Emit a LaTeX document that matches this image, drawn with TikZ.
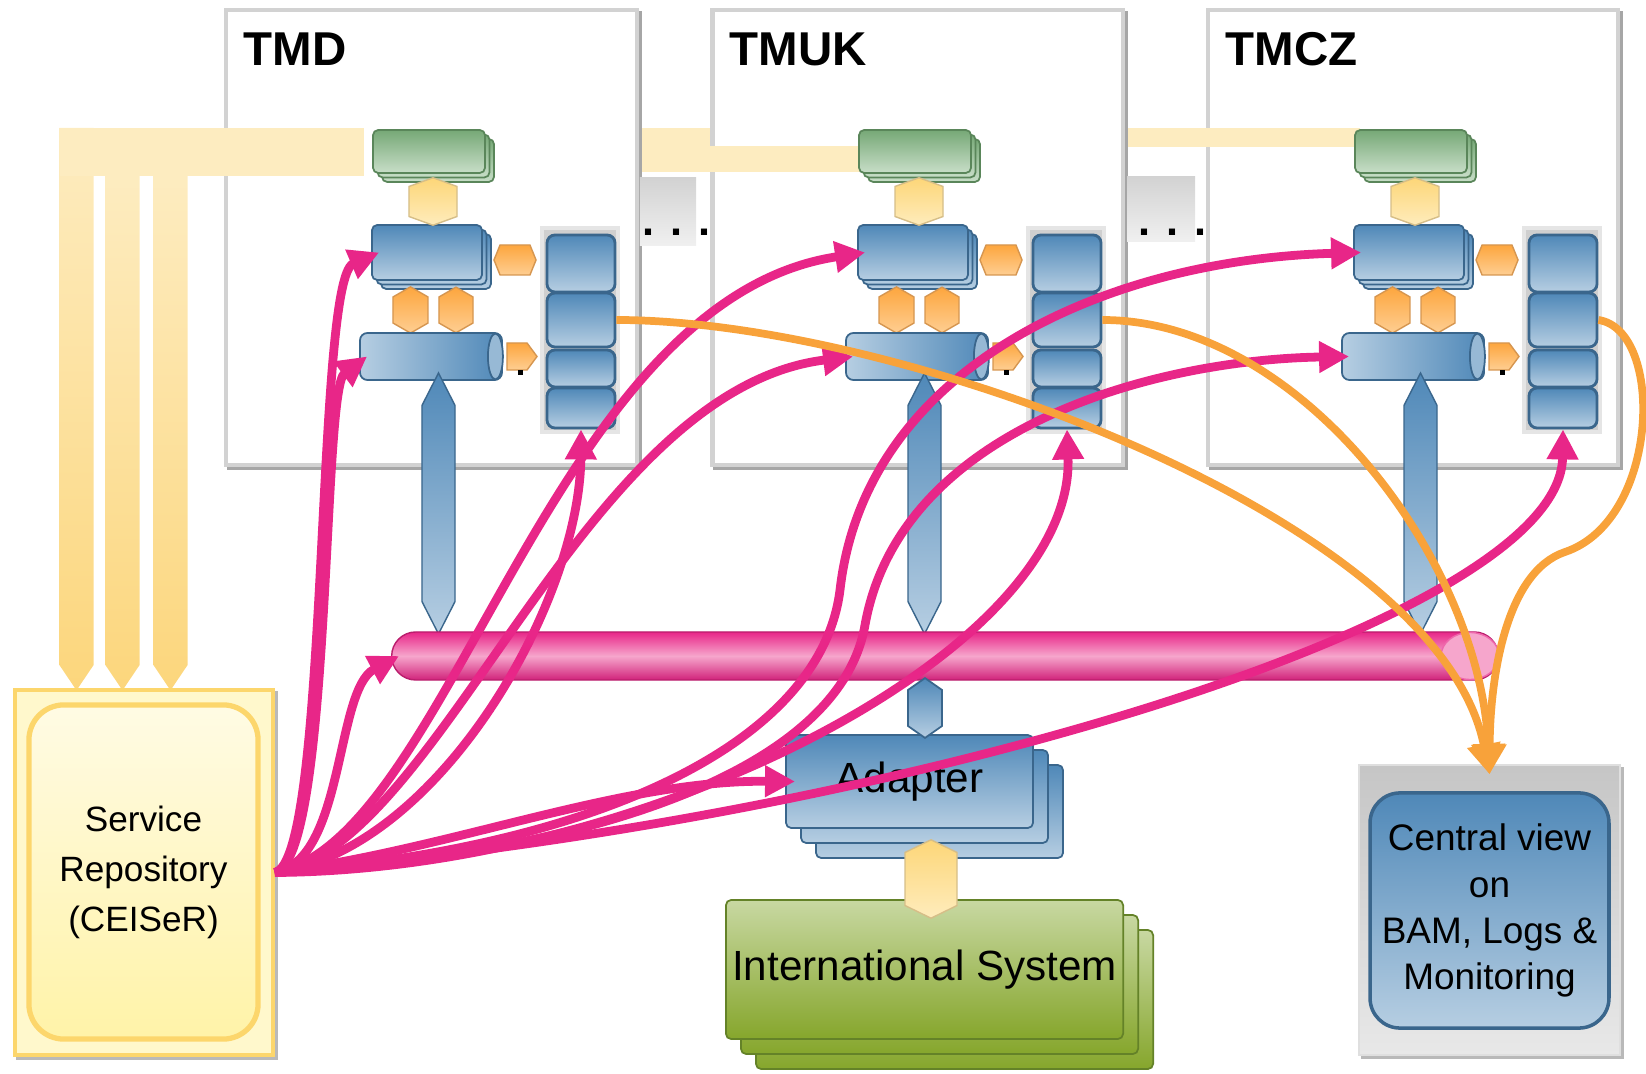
\documentclass[tikz,border=0pt]{standalone}
\usepackage{fontspec}
\setmainfont{Liberation Sans}
\usetikzlibrary{arrows.meta, shapes.symbols, shadows}

\definecolor{bluetop}{RGB}{79,136,184}
\definecolor{bluebot}{RGB}{182,206,226}
\definecolor{blueedge}{RGB}{58,102,140}
\definecolor{greentop}{RGB}{118,168,118}
\definecolor{greenbot}{RGB}{200,222,200}
\definecolor{greenedge}{RGB}{90,134,90}
\definecolor{olivetop}{RGB}{200,216,162}
\definecolor{olivebot}{RGB}{134,166,44}
\definecolor{oliveedge}{RGB}{100,130,40}
\definecolor{sandlt}{RGB}{253,236,192}
\definecolor{sanddk}{RGB}{252,214,124}
\definecolor{sandedge}{RGB}{214,190,136}
\definecolor{hextop}{RGB}{253,214,120}
\definecolor{hexbot}{RGB}{254,236,188}
\definecolor{orangetop}{RGB}{253,166,62}
\definecolor{orangebot}{RGB}{254,206,146}
\definecolor{orangeedge}{RGB}{214,150,80}
\definecolor{flow}{RGB}{248,162,58}
\definecolor{msgpink}{RGB}{232,38,136}
\definecolor{msgpinklt}{RGB}{246,166,204}
\definecolor{repofill}{RGB}{255,248,204}
\definecolor{repotop}{RGB}{255,251,228}
\definecolor{repobot}{RGB}{255,243,168}
\definecolor{repoedge}{RGB}{252,214,108}

\tikzset{
  sitebox/.style={fill=white, draw=gray!35, line width=1.2pt, inner sep=0pt,
    minimum width=4.1cm, minimum height=4.55cm,
    copy shadow={shadow xshift=0.03cm, shadow yshift=-0.03cm, fill=gray!70, draw=gray!70}},
  sitetitle/.style={anchor=base west, inner sep=0pt, font=\bfseries\fontsize{13.5}{16}\selectfont},
  feed/.style={fill=sandlt, inner sep=0pt},
  prong/.style={signal, signal to=south, signal pointer angle=68,
    top color=sandlt, bottom color=sanddk, inner sep=0pt, minimum width=0.34cm},
  blueshade/.style={top color=bluetop, bottom color=bluebot, draw=blueedge, line width=0.5pt},
  greenshade/.style={top color=greentop, bottom color=greenbot, draw=greenedge, line width=0.5pt},
  oliveshade/.style={top color=olivetop, bottom color=olivebot, draw=oliveedge, line width=0.5pt},
  sandshade/.style={top color=hextop, bottom color=hexbot, draw=sandedge, line width=0.4pt},
  orangeshade/.style={top color=orangetop, bottom color=orangebot, draw=orangeedge, line width=0.4pt},
  pile/.style n args={3}{#1, rounded corners=1.5pt, inner sep=0pt,
    copy shadow={#1, shadow xshift=#3, shadow yshift=-#3},
    copy shadow={#1, shadow xshift=#2, shadow yshift=-#2}},
  vhex/.style={signal, signal to=north and south, inner sep=0pt},
  hhex/.style={signal, signal to=east and west, inner sep=0pt},
  drum/.style={rounded corners=0.075cm, left color=bluebot, right color=bluetop,
    draw=blueedge, line width=0.5pt, inner sep=0pt, minimum width=1.42cm, minimum height=0.47cm},
  lift/.style={signal, signal to=north and south, signal pointer angle=54,
    top color=bluetop, bottom color=bluebot, draw=blueedge, line width=0.4pt,
    inner sep=0pt, minimum width=0.33cm, minimum height=1.96cm},
  pipe/.style={rounded corners=0.24cm, top color=msgpink, bottom color=msgpink!90!black,
    middle color=msgpinklt, draw=msgpink!80!black, line width=0.4pt, inner sep=0pt,
    minimum width=11.06cm, minimum height=0.48cm},
  stackcol/.style={fill=gray!38, draw=gray!20, line width=1pt, inner sep=0pt,
    minimum width=0.76cm, minimum height=2.04cm},
  slot/.style={blueshade, line width=0.8pt, rounded corners=0.08cm, inner sep=0pt, minimum width=0.68cm},
  dotbox/.style={top color=gray!35, bottom color=gray!12, inner sep=0pt},
  dots/.style={anchor=base west, inner sep=0pt, font=\bfseries\fontsize{12.3}{14}\selectfont},
  msg/.style={draw=msgpink, line width=2.5pt, -{Triangle[length=0.3cm, width=0.3cm]}},
  feedback/.style={draw=flow, line width=2.2pt, -{Triangle[length=0.3cm, width=0.32cm]}},
}

\begin{document}
\begin{tikzpicture}[x=0.01cm, y=-0.01cm]
\useasboundingbox (0,0) rectangle (1646,1074);

% site frames, with the links that run behind them
\node[sitebox] (tmcz) at (1413,237.5) {};
\node[feed, minimum width=7.6cm, minimum height=0.19cm] (link-tmcz) at (980,137.5) {};
\node[sitebox] (tmuk) at (917.5,237.5) {};
\node[feed, minimum width=2.62cm, minimum height=0.26cm] (link-tmuk) at (731,159) {};
\node[sitebox] (tmd) at (431.5,237.5) {};

% feed from the repository
\node[prong, minimum height=5.37cm] (feed-l) at (76.5,396.5) {};
\node[prong, minimum height=4.89cm] (feed-m) at (122.5,420.5) {};
\node[prong, minimum height=4.89cm] (feed-r) at (170.5,420.5) {};
\node[feed, minimum width=3.04cm, minimum height=0.48cm] (feed-top) at (212,152) {};

% contents of each site
\foreach \site/\dx/\lbl in {tmd/0/TMD, tmuk/486/TMUK, tmcz/982/TMCZ} {
  \begin{scope}[shift={(\dx,0)}]
    \node[sitetitle] (\site-title) at (243,66) {\lbl};
    \node[pile={greenshade}{0.045cm}{0.09cm}, minimum width=1.12cm, minimum height=0.43cm] (\site-green) at (429,151.5) {};
    \node[pile={blueshade}{0.045cm}{0.09cm}, minimum width=1.10cm, minimum height=0.55cm] (\site-svc) at (427,252.5) {};
    \node[vhex, sandshade, signal pointer angle=140, minimum width=0.48cm, minimum height=0.30cm] (\site-port) at (433,201.5) {};
    \node[hhex, orangeshade, signal pointer angle=136, minimum width=0.42cm, minimum height=0.30cm] (\site-out) at (515,260) {};
    \node[vhex, orangeshade, signal pointer angle=120, minimum width=0.35cm, minimum height=0.26cm] (\site-in1) at (410.5,310) {};
    \node[vhex, orangeshade, signal pointer angle=120, minimum width=0.34cm, minimum height=0.26cm] (\site-in2) at (456,310) {};
    \node[drum] (\site-cyl) at (431,356.5) {};
    \draw[fill=bluebot!70!bluetop, draw=blueedge, line width=0.5pt] ([xshift=-0.075cm]\site-cyl.east) ellipse [x radius=0.075cm, y radius=0.23cm];
    \node[lift] (\site-lift) at (438.5,503.5) {};
    \node[signal, signal to=east, orangeshade, signal pointer angle=107, inner sep=0pt,
      minimum width=0.30cm, minimum height=0.27cm] (\site-tap) at (517,356.5) {};
    \fill (518,370) rectangle (523,375);
    \node[stackcol] (\site-col) at (580,330) {};
    \node[slot, minimum height=0.57cm] (\site-s1) at (581,263.5) {};
    \node[slot, minimum height=0.54cm] (\site-s2) at (581,320) {};
    \node[slot, minimum height=0.37cm] (\site-s3) at (581,368.5) {};
    \node[slot, minimum height=0.40cm] (\site-s4) at (581,408) {};
  \end{scope}
}

% gaps between the sites
\node[dotbox, minimum width=0.56cm, minimum height=0.67cm] (gap1) at (668,211.5) {};
\node[dots] (gap1-dots) at (642,236) {. . .};
\node[dotbox, minimum width=0.68cm, minimum height=0.65cm] (gap2) at (1161,209) {};
\node[dots] (gap2-dots) at (1138,236) {. . .};

% message bus
\node[pipe] (bus) at (945,656) {};
\draw[fill=msgpinklt, draw=msgpink!70!white, line width=0.4pt] ([xshift=-0.29cm]bus.east) ellipse [x radius=0.29cm, y radius=0.235cm];

% adapter and external system
\node[pile={blueshade}{0.15cm}{0.3cm}, minimum width=2.47cm, minimum height=0.93cm,
  font=\fontsize{12}{14}\selectfont] (adapter) at (909.5,781.5) {Adapter};
\node[vhex, blueshade, signal pointer angle=110, minimum width=0.34cm, minimum height=0.36cm] (bus-tap) at (925,708) {};
\node[pile={oliveshade}{0.15cm}{0.3cm}, minimum width=3.97cm, minimum height=1.39cm,
  font=\fontsize{12}{14}\selectfont] (intl) at (924.5,969.5) {International System};
\node[vhex, sandshade, signal pointer angle=128, minimum width=0.52cm, minimum height=0.53cm] (intl-port) at (931,879) {};

% repository
\node[fill=repofill, draw=repoedge, line width=1pt, inner sep=0pt, minimum width=2.58cm, minimum height=3.65cm,
  copy shadow={shadow xshift=0.03cm, shadow yshift=-0.03cm, fill=gray!55, draw=gray!55}] (repo) at (144,872.5) {};
\node[top color=repotop, bottom color=repobot, draw=repoedge, line width=1.5pt, rounded corners=0.35cm,
  minimum width=2.29cm, minimum height=3.34cm, align=center,
  font=\fontsize{10}{14.2}\selectfont] (repo-in) at (143.5,872) {Service\\Repository\\(CEISeR)};

% central monitoring
\node[top color=gray!45, bottom color=gray!18, draw=gray!25, inner sep=0pt, minimum width=2.61cm, minimum height=2.9cm,
  copy shadow={shadow xshift=0.03cm, shadow yshift=-0.03cm, fill=gray!55, draw=gray!55}] (central) at (1489.5,910) {};
\node[blueshade, line width=1pt, rounded corners=0.3cm, minimum width=2.33cm, minimum height=2.35cm, align=center,
  font=\fontsize{10.5}{13.1}\selectfont] (central-in) at (1489.5,910.5) {Central view\\on\\BAM, Logs \&\\Monitoring};

% calls from the repository
\draw[msg] (repo.east) .. controls (330,860) and (315,280) .. ([xshift=0.08cm]tmd-svc.west);
\draw[msg] (repo.east) .. controls (332,860) and (322,390) .. ([xshift=0.08cm]tmd-cyl.west);
\draw[msg] (repo.east) .. controls (345,860) and (335,690) .. ([xshift=0.08cm]bus.west);
\draw[msg] (repo.east) .. controls (440,850) and (580,600) .. (tmd-s4.south);
\draw[msg] (repo.east) .. controls (450,840) and (550,300) .. ([xshift=0.08cm]tmuk-svc.west);
\draw[msg] (repo.east) .. controls (440,850) and (580,390) .. ([xshift=0.08cm]tmuk-cyl.west);
\draw[msg] (repo.east) .. controls (650,870) and (1075,650) .. (tmuk-s4.south);
\draw[msg] (repo.east) .. controls (450,850) and (620,780) .. ([xshift=0.1cm]adapter.west);
\draw[msg] (repo.east) .. controls (580,850) and (820,750) .. (840,590)
  .. controls (865,370) and (1100,260) .. ([xshift=0.08cm]tmcz-svc.west);
\draw[msg] (repo.east) .. controls (590,855) and (840,770) .. (865,625)
  .. controls (900,430) and (1150,360) .. ([xshift=0.08cm]tmcz-cyl.west);
\draw[msg] (repo.east) .. controls (900,820) and (1560,620) .. (tmcz-s4.south);

% monitoring feeds
\draw[feedback] (tmd-s2.east) .. controls (900,320) and (1440,520) .. ([yshift=-0.1cm]central.north);
\draw[feedback] (tmuk-s2.east) .. controls (1300,320) and (1480,560) .. ([yshift=-0.1cm]central.north);
\draw[feedback] (tmcz-s2.east) .. controls (1665,330) and (1660,520) .. (1565,552)
  .. controls (1505,572) and (1490,680) .. ([yshift=-0.1cm]central.north);
\end{tikzpicture}
\end{document}
